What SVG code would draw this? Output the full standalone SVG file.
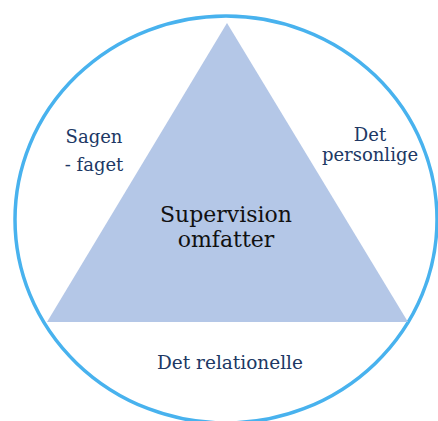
<svg xmlns="http://www.w3.org/2000/svg" width="438" height="421" viewBox="0 0 438 421">
<style>
.lbl{font-family:"DejaVu Serif","Liberation Serif",serif;font-size:18px;fill:#203864;text-anchor:middle}
.main{font-family:"DejaVu Serif","Liberation Serif",serif;font-size:22px;fill:#111;text-anchor:middle}
</style>
<rect width="438" height="421" fill="#fff"/>
<g id="circle"><ellipse cx="226" cy="219.5" rx="211" ry="203.5" fill="none" stroke="#48b2ee" stroke-width="3.5"/></g>
<g id="triangle"><polygon points="227,23 408,322 47,322" fill="#b4c7e7"/>
<text class="main" x="226" y="222">Supervision</text>
<text class="main" x="226" y="247">omfatter</text></g>
<g id="sagen"><text class="lbl" x="94" y="143">Sagen</text><text class="lbl" x="94" y="171">- faget</text></g>
<g id="personlige"><text class="lbl" x="370" y="141">Det</text><text class="lbl" x="370" y="161">personlige</text></g>
<g id="relationelle"><text class="lbl" x="230" y="369" style="font-size:18.5px">Det relationelle</text></g>
</svg>
